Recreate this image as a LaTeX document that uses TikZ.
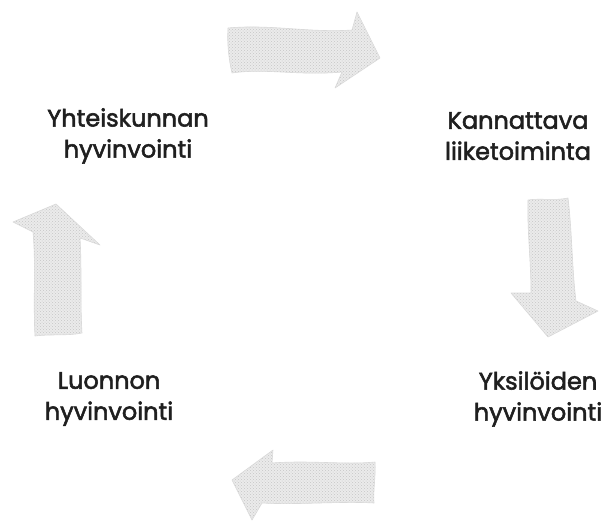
\documentclass[tikz,border=0pt]{standalone}
\usepackage{fontspec}
\setmainfont{Poppins}
\newfontfamily\lblfont{Poppins}[FakeBold=2.2]
\usetikzlibrary{patterns}
\begin{document}
\begin{tikzpicture}[x=1pt,y=-1pt,
  arrowshape/.style={preaction={fill=gray!16}, pattern=crosshatch dots, pattern color=gray!45, draw=gray!30, line width=0.6pt, line join=round},
  label/.style={font=\lblfont\fontsize{24}{31}\selectfont, align=center, text=black!88, inner sep=0pt}]
\useasboundingbox (0,0) rectangle (602,520);
% top arrow (pointing right)
\path[arrowshape] (228,28) .. controls (270,24) and (310,33) .. (352,30)
  -- (357,12) -- (380,58) -- (335,88) -- (342,72)
  .. controls (300,76) and (265,68) .. (232,73)
  .. controls (229,60) and (227,45) .. (228,28) -- cycle;
% right arrow (pointing down)
\path[arrowshape] (528,200) .. controls (540,198) and (555,201) .. (568,198)
  .. controls (572,230) and (572,270) .. (576,301)
  -- (598,311) -- (548,337) -- (511,293) -- (531,293)
  .. controls (531,260) and (527,230) .. (528,200) -- cycle;
% bottom arrow (pointing left)
\path[arrowshape] (375,462) .. controls (376,475) and (373,490) .. (374,503)
  .. controls (340,501) and (300,505) .. (262,503)
  -- (252,520) -- (232,480) -- (273,450) -- (272,463)
  .. controls (310,460) and (345,465) .. (375,462) -- cycle;
% left arrow (pointing up)
\path[arrowshape] (35,336) .. controls (50,334) and (68,336) .. (82,333)
  .. controls (80,300) and (82,270) .. (80,238)
  -- (100,245) -- (56,204) -- (13,222) -- (33,232)
  .. controls (36,265) and (33,300) .. (35,336) -- cycle;
% labels
\node[label] (yht) at (128,136) {Yhteiskunnan\\hyvinvointi};
\node[label] (kan) at (518,136) {Kannattava\\liiketoiminta};
\node[label] (luo) at (109,399) {Luonnon\\hyvinvointi};
\node[label] (yks) at (538,399) {Yksilöiden\\hyvinvointi};
\end{tikzpicture}
\end{document}
